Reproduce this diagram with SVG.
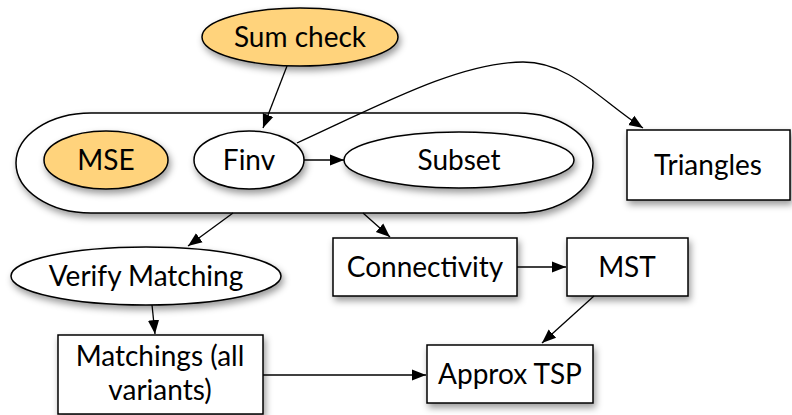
<svg xmlns="http://www.w3.org/2000/svg" width="792" height="415" viewBox="0 0 792 415">
<style>
.n{stroke:#000;stroke-width:1.5;fill:#fff;filter:url(#sh)}
.o{fill:#FFD37C}
.t{font-family:Lato,"Open Sans",sans-serif;font-size:28px;text-anchor:middle;fill:#000}
.e{fill:none;stroke:#000;stroke-width:1.3;marker-end:url(#ah)}
</style>
<defs>
<filter id="sh" x="-20%" y="-30%" width="140%" height="170%">
<feDropShadow dx="2" dy="4" stdDeviation="3.5" flood-color="#000" flood-opacity="0.4"/>
</filter>
<marker id="ah" viewBox="0 0 10 10" refX="10" refY="5" markerWidth="14" markerHeight="14" markerUnits="userSpaceOnUse" orient="auto">
<path d="M0,1 L10,5 L0,9 Z" fill="#000"/>
</marker>
</defs>
<g id="cluster">
<rect x="16" y="113" width="577" height="100" rx="75" ry="50" class="n"/>
</g>
<g id="sumcheck"><ellipse cx="300" cy="37" rx="98" ry="29" class="n o"/><text x="300" y="47" class="t">Sum check</text></g>
<g id="mse"><ellipse cx="106" cy="160" rx="62" ry="29" class="n o"/><text x="106" y="170" class="t">MSE</text></g>
<g id="finv"><ellipse cx="249" cy="160" rx="55" ry="29" class="n"/><text x="249" y="170" class="t">Finv</text></g>
<g id="subset"><ellipse cx="459" cy="160" rx="115" ry="28" class="n"/><text x="459" y="170" class="t">Subset</text></g>
<g id="triangles"><rect x="627" y="130" width="163" height="70" class="n"/><text x="708" y="175" class="t">Triangles</text></g>
<g id="verify"><ellipse cx="146" cy="276" rx="135" ry="29" class="n"/><text x="146" y="286" class="t">Verify Matching</text></g>
<g id="connectivity"><rect x="333" y="238" width="184" height="58" class="n"/><text x="425" y="277" class="t">Connectivity</text></g>
<g id="mst"><rect x="567" y="238" width="121" height="58" class="n"/><text x="627" y="277" class="t">MST</text></g>
<g id="matchings"><rect x="58" y="335" width="205" height="79" class="n"/><text x="160" y="366" class="t">Matchings (all</text><text x="160" y="400" class="t">variants)</text></g>
<g id="approx"><rect x="427" y="345" width="166" height="58" class="n"/><text x="510" y="384" class="t">Approx TSP</text></g>
<g id="edges">
<path class="e" d="M287,66 L263,128"/>
<path class="e" d="M297,143 C380,105 460,62 523,62 C570,62 600,100 643,128"/>
<path class="e" d="M304,160 L344,160"/>
<path class="e" d="M233,213 L188,246"/>
<path class="e" d="M363,213 L390,237"/>
<path class="e" d="M517,267 L566,267"/>
<path class="e" d="M594,296 L542,343"/>
<path class="e" d="M152,305 L155,334"/>
<path class="e" d="M263,375 L426,375"/>
</g>
</svg>
